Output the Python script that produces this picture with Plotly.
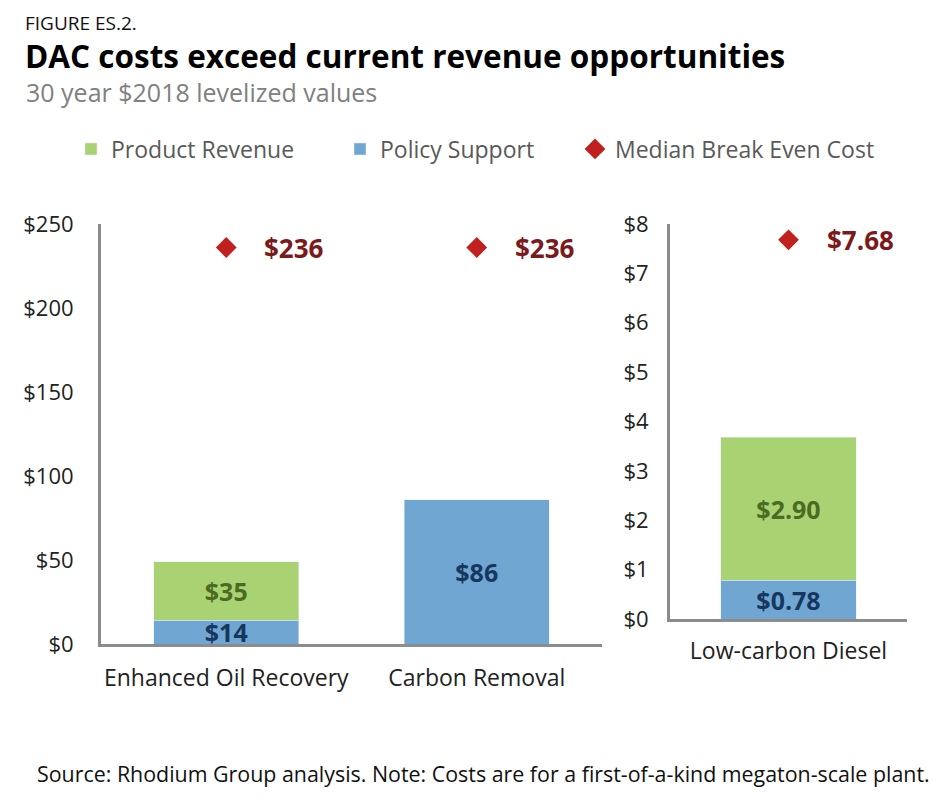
import plotly.graph_objects as go

# ---- data ----
left_categories = ["Enhanced Oil Recovery", "Carbon Removal"]
left_policy = [14, 86]
left_product = [35, None]
left_breakeven = [236, 236]

right_categories = ["Low-carbon Diesel"]
right_policy = [0.78]
right_product = [2.90]
right_breakeven = [7.68]

left_ticks = [0, 50, 100, 150, 200, 250]
right_ticks = [0, 1, 2, 3, 4, 5, 6, 7, 8]

GREEN = "#A9D273"
BLUE = "#6FA6D2"
RED = "#C0211F"
DARKRED = "#7A1A1A"
GREEN_TXT = "#4B6B23"
BLUE_TXT = "#17375E"
FONT = "Open Sans"
W, H = 946, 812
OFF = 8  # page body margin


def px(x):
    return (x - OFF) / W


def py(y):
    return 1 - (y - OFF) / H


def fmt_left(v):
    return None if v is None else f"${v:.0f}"


def fmt_right(v):
    return None if v is None else f"${v:.2f}"


bar_txt = dict(textposition="inside", insidetextanchor="middle", constraintext="none")
BAR_FS = 25

fig = go.Figure()

# Left panel
fig.add_trace(go.Bar(
    x=left_categories, y=left_policy, name="Policy Support", marker_color=BLUE,
    text=[fmt_left(v) for v in left_policy], **bar_txt,
    textfont=dict(family=FONT, size=BAR_FS, color=BLUE_TXT, weight="bold"),
    width=0.58, xaxis="x", yaxis="y", showlegend=False,
))
fig.add_trace(go.Bar(
    x=left_categories, y=left_product, name="Product Revenue", marker_color=GREEN,
    text=[fmt_left(v) for v in left_product], **bar_txt,
    textfont=dict(family=FONT, size=BAR_FS, color=GREEN_TXT, weight="bold"),
    width=0.58, xaxis="x", yaxis="y", showlegend=False,
))
fig.add_trace(go.Scatter(
    x=left_categories, y=left_breakeven, mode="markers", name="Median Break Even Cost",
    marker=dict(symbol="diamond", size=16, color=RED), xaxis="x", yaxis="y", showlegend=False,
))

# Right panel (carries the legend entries)
fig.add_trace(go.Bar(
    x=right_categories, y=right_policy, name="Policy Support", marker_color=BLUE,
    text=[fmt_right(v) for v in right_policy], **bar_txt,
    textfont=dict(family=FONT, size=BAR_FS, color=BLUE_TXT, weight="bold"),
    width=0.57, xaxis="x2", yaxis="y2", legend="legend2",
))
fig.add_trace(go.Bar(
    x=right_categories, y=right_product, name="Product Revenue", marker_color=GREEN,
    text=[fmt_right(v) for v in right_product], **bar_txt,
    textfont=dict(family=FONT, size=BAR_FS, color=GREEN_TXT, weight="bold"),
    width=0.57, xaxis="x2", yaxis="y2", legend="legend",
))
fig.add_trace(go.Scatter(
    x=right_categories, y=right_breakeven, mode="markers", name="Median Break Even Cost",
    marker=dict(symbol="diamond", size=16, color=RED), xaxis="x2", yaxis="y2", legend="legend3",
))

# break-even labels
for cat, v in zip(left_categories, left_breakeven):
    fig.add_annotation(x=cat, y=v, xref="x", yref="y", text=f"<b>${v:.0f}</b>", showarrow=False,
                       xanchor="left", xshift=36, font=dict(family=FONT, size=26, color=DARKRED))
for cat, v in zip(right_categories, right_breakeven):
    fig.add_annotation(x=cat, y=v, xref="x2", yref="y2", text=f"<b>${v:.2f}</b>", showarrow=False,
                       xanchor="left", xshift=36, font=dict(family=FONT, size=26, color=DARKRED))

axis_line = dict(showline=True, linecolor="#8C8C8C", linewidth=3, showgrid=False, zeroline=False,
                 ticks="", fixedrange=True, automargin=False)
TICK_FS = 22
CAT_FS = 23

leg_common = dict(orientation="h", xanchor="left", yanchor="middle", y=py(149),
                  font=dict(family=FONT, size=23, color="#595959"), bgcolor="rgba(0,0,0,0)")

fig.update_layout(
    width=W, height=H, barmode="stack", plot_bgcolor="white", paper_bgcolor="white",
    margin=dict(l=0, r=0, t=0, b=0, autoexpand=False),
    font=dict(family=FONT, color="#222222"),
    xaxis=dict(domain=[px(101), px(602)], anchor="y", tickfont=dict(size=CAT_FS, color="#222222"),
               ticklabelstandoff=11, **axis_line),
    yaxis=dict(domain=[py(644), py(224)], anchor="x", range=[0, 250],
               tickvals=left_ticks, ticktext=[f"${t}" for t in left_ticks],
               tickfont=dict(size=TICK_FS, color="#222222"), ticklabelstandoff=20, **axis_line),
    xaxis2=dict(domain=[px(670), px(907)], anchor="y2", tickfont=dict(size=CAT_FS, color="#222222"),
                ticklabelstandoff=9, **axis_line),
    yaxis2=dict(domain=[py(619), py(224)], anchor="x2", range=[0, 8],
                tickvals=right_ticks, ticktext=[f"${t}" for t in right_ticks],
                tickfont=dict(size=TICK_FS, color="#222222"), ticklabelstandoff=14, **axis_line),
    legend=dict(x=px(93 - 22), **leg_common),
    legend2=dict(x=px(362 - 22), **leg_common),
    legend3=dict(x=px(597 - 22), **leg_common),
)

fig.add_annotation(xref="paper", yref="paper", x=px(24), y=py(9), xanchor="left", yanchor="top",
                   borderpad=0, text="FIGURE ES.2.", showarrow=False,
                   font=dict(family=FONT, size=19, color="#111111"))
fig.add_annotation(xref="paper", yref="paper", x=px(23), y=py(55), xanchor="left", yanchor="middle",
                   text="<b>DAC costs exceed current revenue opportunities</b>", showarrow=False,
                   font=dict(family=FONT, size=31.5, color="#000000"))
fig.add_annotation(xref="paper", yref="paper", x=px(24), y=py(92), xanchor="left", yanchor="middle",
                   text="30 year $2018 levelized values", showarrow=False,
                   font=dict(family=FONT, size=25, color="#808080"))
fig.add_annotation(xref="paper", yref="paper", x=px(35), y=py(773), xanchor="left", yanchor="middle",
                   text="Source: Rhodium Group analysis. Note: Costs are for a first-of-a-kind megaton-scale plant.",
                   showarrow=False, font=dict(family=FONT, size=21.4, color="#111111"))

fig.write_html("out.html")
